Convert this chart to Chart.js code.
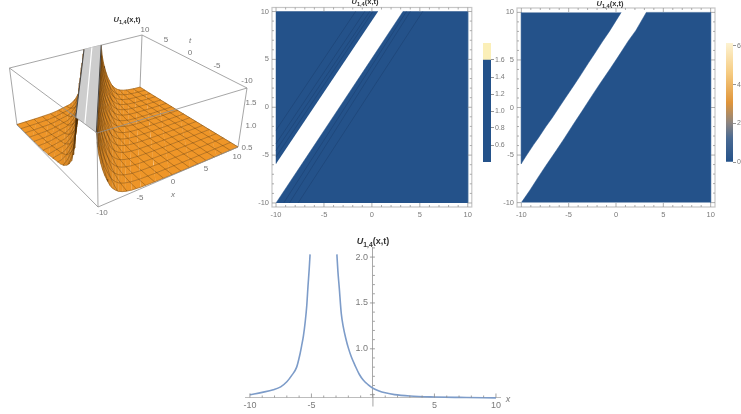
<!DOCTYPE html>
<html>
<head>
<meta charset="utf-8">
<title>U1,4(x,t)</title>
<script src="https://cdn.jsdelivr.net/npm/chart.js@4/dist/chart.umd.min.js"></script>
<style>
  html, body { margin: 0; background: #fff; overflow: hidden; }
  #stage { position: relative; width: 741px; height: 414px; overflow: hidden; filter: blur(0.4px); }
  #stage canvas { position: absolute; }
  .lbl { position: absolute; font: 8px "Liberation Sans", sans-serif; color: #777; transform: translate(-50%, -50%); white-space: nowrap; }
  .title { position: absolute; font: bold 7.5px "Liberation Sans", sans-serif; color: #333; transform: translate(-50%, -50%); white-space: nowrap; }
  .title sub { font-size: 0.75em; line-height: 0; }
</style>
</head>
<body>
<div id="stage">
  <canvas id="surface" style="left:0;top:0" width="250" height="225"></canvas>
  <canvas id="contour" style="left:250px;top:0" width="225" height="225"></canvas>
  <canvas id="contourBar" style="left:478px;top:35px" width="30" height="135"></canvas>
  <canvas id="density" style="left:495px;top:0" width="223" height="225"></canvas>
  <canvas id="densityBar" style="left:722px;top:35px" width="19" height="135"></canvas>
  <canvas id="section" style="left:230px;top:240px" width="290" height="174"></canvas>
</div>
<script>
  const FONT = '"Liberation Sans", sans-serif';
  const BLUE = "#24528a";
  const BLUE_LINE = "#1d4475";
  const TICK_GREY = "#8c8c8c";
  const TEXT_GREY = "#7a7a7a";

  // 2D section
  const lineLeftX = [-10, -9, -8.1, -7.5, -7, -6.6, -6.2, -5.95, -5.8, -5.65, -5.5, -5.38, -5.28, -5.18, -5.11];
  const lineLeftU = [0.5, 0.525, 0.553, 0.585, 0.64, 0.71, 0.8, 0.93, 1.03, 1.14, 1.3, 1.47, 1.68, 1.87, 2.03];
  const lineRightX = [-2.93, -2.85, -2.74, -2.57, -2.41, -2.2, -2, -1.75, -1.46, -1.1, -0.79, -0.4, 0, 0.5, 1, 1.76, 3, 5, 7, 10];
  const lineRightU = [2.03, 1.85, 1.67, 1.38, 1.24, 1.11, 1.01, 0.91, 0.82, 0.72, 0.66, 0.61, 0.57, 0.54, 0.52, 0.5, 0.485, 0.475, 0.47, 0.465];

  // surface height across the ridge, by distance d from the ridge axis
  const leftSectionD = [-12, -9, -7, -6, -5.1, -4, -3.5, -3, -2.6, -2.2, -1.95, -1.8, -1.65, -1.5, -1.35];
  const leftSectionU = [0.47, 0.475, 0.485, 0.5, 0.525, 0.553, 0.585, 0.64, 0.71, 0.8, 0.93, 1.03, 1.14, 1.3, 1.6];
  const rightSectionD = [1.3, 1.43, 1.59, 1.8, 2, 2.25, 2.54, 2.9, 3.21, 3.6, 4, 4.5, 5, 5.76, 7, 9, 11, 14, 18, 22];
  const rightSectionU = [1.6, 1.38, 1.24, 1.11, 1.01, 0.91, 0.82, 0.72, 0.66, 0.61, 0.57, 0.54, 0.52, 0.5, 0.485, 0.475, 0.47, 0.465, 0.462, 0.46];
  const meshStops = [-10, -8.75, -7.5, -6.25, -5, -3.75, -2.5, -1.25, 0, 1.25, 2.5, 3.75, 5, 6.25, 7.5, 8.75, 10];
  const ridgeX0 = -4.69;
  const ridgeSlope = 0.669;
  const ridgeStripeD = -0.15;

  // contour plot
  const contourUpperX = [-10, -10, 0.64];
  const contourUpperT = [-5.9, 10, 10];
  const contourLowerX = [-10, 3.24, 10, 10];
  const contourLowerT = [-10, 10, 10, -10];
  const contourLineX0 = [-10, -10, -10, -10, -9.2, -8.6, -7.7];
  const contourLineT0 = [-2.4, -3.8, -4.5, -5.2, -10, -10, -10];
  const contourLineX1 = [-1.7, -0.75, -0.23, 0.1, 3.6, 4, 5.3];
  const contourLineT1 = [10, 10, 10, 10, 10, 10, 10];
  const contourBarStops = [0.4, 1.6, 1.8];
  const contourBarTicks = [0.6, 0.8, 1.0, 1.2, 1.4, 1.6];

  // density plot, band edges are slightly ragged in the picture
  const densityUpperX = [-10, -10, -9.5, -8.7, -8.2, -7.4, -6.75, -5.95, -5.35, -4.4, -3.8, -2.9, -2.3, -1.45, -0.7, 0.55];
  const densityUpperT = [10, -5.9, -5.1, -3.9, -3.2, -2, -1.1, 0.1, 1, 2.4, 3.3, 4.7, 5.6, 6.9, 8, 10];
  const densityLowerX = [-10, -9.1, -8.2, -7.4, -6.3, -5.5, -4.4, -3.6, -2.5, -1.7, -0.6, 0.2, 1.3, 2.1, 3.2, 10, 10];
  const densityLowerT = [-10, -8.7, -7.3, -6.1, -4.5, -3.3, -1.6, -0.4, 1.3, 2.5, 4.1, 5.3, 7, 8.1, 10, 10, -10];
  const densityBarTicks = [0, 2, 4, 6];

  const frameTicks = [-10, -5, 0, 5, 10];
  const sectionXTicks = [-10, -5, 5, 10];
  const sectionUTicks = [1.0, 1.5, 2.0];

  const tLabels = ["10", "5", "0", "-5", "-10"];
  const xLabels = ["10", "5", "0", "-5", "-10"];
  const zLabels = ["1.5", "1.0", "0.5"];
  const tLabelPos = [[145, 29], [166, 39], [190, 52], [217, 65], [247, 80]];
  const xLabelPos = [[237, 156], [206, 168], [173, 181], [140, 197], [102, 212]];
  const zLabelPos = [[251, 102], [251, 125], [247, 147]];

  // box corners on the page: [x, y] for (x, t) = (-10,-10), (10,-10), (-10,10), (10,10)
  const boxBottom = [[98, 207], [238, 147], [17, 125], [140, 88]];
  const boxTop = [[97, 133], [247, 88], [9.5, 68], [142, 35]];
  const zMin = 0.46;
  const zMax = 1.6;
  const depthX = 1.13;
  const depthT = 1.25;

  const stage = document.getElementById("stage");

  function addText(cls, html, x, y, size) {
    const el = document.createElement("span");
    el.className = cls;
    el.innerHTML = html;
    el.style.left = x + "px";
    el.style.top = y + "px";
    if (size) {
      el.style.fontSize = size + "px";
    }
    stage.appendChild(el);
  }

  // far cells of the box look smaller than near ones
  function warp(f, w) {
    return (f * w) / (f * w + 1 - f);
  }

  function project(p) {
    const fx = warp((p.x + 10) / 20, depthX);
    const ft = warp((p.t + 10) / 20, depthT);
    const fz = (p.u - zMin) / (zMax - zMin);
    const at = (box, i) => (1 - ft) * ((1 - fx) * box[0][i] + fx * box[1][i]) + ft * ((1 - fx) * box[2][i] + fx * box[3][i]);
    return {
      x: (1 - fz) * at(boxBottom, 0) + fz * at(boxTop, 0),
      y: (1 - fz) * at(boxBottom, 1) + fz * at(boxTop, 1),
    };
  }

  function onSurface(d, t, u) {
    return { x: d + ridgeX0 + ridgeSlope * t, t: t, u: u };
  }

  function cut(a, b, key, limit) {
    const f = (limit - a[key]) / (b[key] - a[key]);
    return { x: a.x + (b.x - a.x) * f, t: a.t + (b.t - a.t) * f, u: a.u + (b.u - a.u) * f };
  }

  function clipPolygon(poly, key, limit, sign) {
    const out = [];
    poly.forEach((a, i) => {
      const b = poly[(i + 1) % poly.length];
      const aIn = sign * (a[key] - limit) >= 0;
      const bIn = sign * (b[key] - limit) >= 0;
      if (aIn) {
        out.push(a);
      }
      if (aIn !== bIn) {
        out.push(cut(a, b, key, limit));
      }
    });
    return out;
  }

  function clipLine(points, key) {
    const out = [];
    for (let i = 0; i < points.length; i++) {
      const p = points[i];
      if (i > 0) {
        const q = points[i - 1];
        [-10, 10].forEach((limit) => {
          if ((q[key] - limit) * (p[key] - limit) < 0) {
            out.push(cut(q, p, key, limit));
          }
        });
      }
      if (p[key] >= -10 && p[key] <= 10) {
        out.push(p);
      }
    }
    return out;
  }

  function mixOrange(f) {
    const dark = [110, 66, 16];
    const light = [239, 150, 40];
    const c = dark.map((v, i) => Math.round(v + (light[i] - v) * f));
    return "rgb(" + c.join(",") + ")";
  }

  function polyDataset(points, color) {
    return {
      data: points.map(project),
      showLine: true,
      fill: "shape",
      backgroundColor: color,
      borderColor: color,
      borderWidth: 0.6,
      pointRadius: 0,
      clip: false,
    };
  }

  function lineDataset(points, color, width) {
    return {
      data: points.map(project),
      showLine: true,
      fill: false,
      borderColor: color,
      borderWidth: width,
      pointRadius: 0,
      clip: false,
    };
  }

  function boxEdge(x0, t0, z0, x1, t1, z1) {
    return lineDataset([{ x: x0, t: t0, u: z0 }, { x: x1, t: t1, u: z1 }], "#8f8f8f", 0.8);
  }

  function surfaceDatasets() {
    const back = [
      boxEdge(-10, 10, zMax, 10, 10, zMax),
      boxEdge(10, 10, zMax, 10, -10, zMax),
      boxEdge(-10, 10, zMin, -10, 10, zMax),
      boxEdge(10, -10, zMin, 10, -10, zMax),
      boxEdge(10, 10, zMin, 10, 10, zMax),
      boxEdge(-10, 10, zMin, 10, 10, zMin),
      boxEdge(10, 10, zMin, 10, -10, zMin),
    ];

    const quads = [];
    [[leftSectionD, leftSectionU, 1.6], [rightSectionD, rightSectionU, 0.8]].forEach(([ds, us, dim]) => {
      for (let i = 0; i < meshStops.length - 1; i++) {
        for (let k = 0; k < ds.length - 1; k++) {
          let poly = [
            onSurface(ds[k], meshStops[i], us[k]),
            onSurface(ds[k + 1], meshStops[i], us[k + 1]),
            onSurface(ds[k + 1], meshStops[i + 1], us[k + 1]),
            onSurface(ds[k], meshStops[i + 1], us[k]),
          ];
          poly = clipPolygon(clipPolygon(poly, "x", -10, 1), "x", 10, -1);
          if (poly.length < 3) {
            continue;
          }
          const slope = Math.abs((us[k + 1] - us[k]) / (ds[k + 1] - ds[k]));
          const depth = poly.reduce((sum, p) => sum + p.x + p.t, 0) / poly.length;
          quads.push({ depth: depth, poly: poly, color: mixOrange(1 / (1 + dim * slope)) });
        }
      }
    });
    quads.sort((a, b) => b.depth - a.depth);

    const mesh = [];
    const meshColor = "rgba(70,42,10,0.65)";
    [[leftSectionD, leftSectionU], [rightSectionD, rightSectionU]].forEach(([ds, us]) => {
      meshStops.forEach((stop) => {
        const alongX = clipLine(ds.map((d, k) => onSurface(d, stop, us[k])), "x");
        if (alongX.length > 1) {
          mesh.push(lineDataset(alongX, meshColor, 0.5));
        }
        const alongT = clipLine(ds.map((d, k) => ({ x: stop, t: (stop - ridgeX0 - d) / ridgeSlope, u: us[k] })), "t");
        if (alongT.length > 1) {
          mesh.push(lineDataset(alongT, meshColor, 0.5));
        }
      });
    });

    // clipped top of the ridge
    const dLeft = leftSectionD[leftSectionD.length - 1];
    const dRight = rightSectionD[0];
    let band = [onSurface(dLeft, -10, zMax), onSurface(dRight, -10, zMax), onSurface(dRight, 10, zMax), onSurface(dLeft, 10, zMax)];
    band = clipPolygon(band, "x", -10, 1);
    const bandLine = (d, color, width) => lineDataset(clipLine([onSurface(d, -10, zMax), onSurface(d, 10, zMax)], "x"), color, width);
    const top = [
      polyDataset(band, "#cdcdcd"),
      bandLine(ridgeStripeD, "#ffffff", 1.2),
      bandLine(dLeft, "#3a3a3a", 0.9),
      bandLine(dRight, "#3a3a3a", 0.9),
    ];

    const front = [
      boxEdge(-10, 10, zMax, -10, -10, zMax),
      boxEdge(-10, -10, zMax, 10, -10, zMax),
      boxEdge(-10, -10, zMin, -10, -10, zMax),
      boxEdge(-10, 10, zMin, -10, -10, zMin),
      boxEdge(-10, -10, zMin, 10, -10, zMin),
    ];

    // chart.js paints the first dataset last, so reverse the back-to-front list
    return back
      .concat(quads.map((q) => polyDataset(q.poly, q.color)), mesh, top, front)
      .reverse();
  }

  new Chart(document.getElementById("surface"), {
    type: "scatter",
    data: { datasets: surfaceDatasets() },
    options: {
      responsive: false,
      animation: false,
      layout: { padding: 0 },
      plugins: { legend: { display: false }, tooltip: { enabled: false } },
      scales: {
        x: { display: false, min: 0, max: 250 },
        y: { display: false, min: 0, max: 225, reverse: true },
      },
    },
  });

  // frame with ticks pointing inward, Mathematica style
  const framePlugin = {
    id: "frameTicks",
    afterDraw(chart) {
      const { ctx, chartArea: a, scales } = chart;
      ctx.save();
      ctx.strokeStyle = "#c6c6c6";
      ctx.lineWidth = 1.2;
      ctx.strokeRect(a.left, a.top, a.right - a.left, a.bottom - a.top);
      ctx.strokeStyle = TICK_GREY;
      ctx.lineWidth = 0.7;
      for (let v = -10; v <= 10; v++) {
        const len = v % 5 === 0 ? 4 : 2;
        const px = scales.x.getPixelForValue(v);
        const py = scales.y.getPixelForValue(v);
        ctx.beginPath();
        ctx.moveTo(px, a.bottom);
        ctx.lineTo(px, a.bottom - len);
        ctx.moveTo(px, a.top);
        ctx.lineTo(px, a.top + len);
        ctx.moveTo(a.left, py);
        ctx.lineTo(a.left + len, py);
        ctx.moveTo(a.right, py);
        ctx.lineTo(a.right - len, py);
        ctx.stroke();
      }
      ctx.restore();
    },
  };

  function zip(xs, ys) {
    return xs.map((x, i) => ({ x: x, y: ys[i] }));
  }

  function blueArea(xs, ys) {
    return {
      data: zip(xs, ys),
      showLine: true,
      fill: "shape",
      backgroundColor: BLUE,
      borderColor: BLUE,
      borderWidth: 0.5,
      pointRadius: 0,
    };
  }

  function frameOptions(range, top) {
    const axis = (extra) => Object.assign({
      type: "linear",
      min: -range,
      max: range,
      grid: { display: false, drawTicks: false },
      border: { display: false },
      ticks: { color: TEXT_GREY, font: { family: FONT, size: 7.5 }, padding: 3, maxRotation: 0, autoSkip: false },
      afterBuildTicks: (scale) => {
        scale.ticks = frameTicks.map((value) => ({ value: value }));
      },
    }, extra);
    return {
      responsive: false,
      animation: false,
      layout: { padding: { top: top, right: 3, left: 0, bottom: 0 } },
      plugins: { legend: { display: false }, tooltip: { enabled: false } },
      scales: {
        x: axis({ afterFit: (scale) => { scale.height = 18; } }),
        y: axis({ afterFit: (scale) => { scale.width = 22; } }),
      },
    };
  }

  const contourDatasets = contourLineX0.map((x0, i) => ({
    data: [{ x: x0, y: contourLineT0[i] }, { x: contourLineX1[i], y: contourLineT1[i] }],
    showLine: true,
    borderColor: BLUE_LINE,
    borderWidth: 0.7,
    pointRadius: 0,
  })).concat([blueArea(contourUpperX, contourUpperT), blueArea(contourLowerX, contourLowerT)]);

  new Chart(document.getElementById("contour"), {
    type: "scatter",
    data: { datasets: contourDatasets },
    options: frameOptions(10.42, 6),
    plugins: [framePlugin],
  });

  new Chart(document.getElementById("density"), {
    type: "scatter",
    data: { datasets: [blueArea(densityUpperX, densityUpperT), blueArea(densityLowerX, densityLowerT)] },
    options: frameOptions(10.46, 8),
    plugins: [framePlugin],
  });

  function barOptions(min, max, ticks, fmt, leftPad, width) {
    return {
      responsive: false,
      animation: false,
      layout: { padding: { top: 8, bottom: 8, left: leftPad, right: 0 } },
      plugins: { legend: { display: false }, tooltip: { enabled: false } },
      scales: {
        x: { display: false, stacked: false },
        y: {
          position: "right",
          min: min,
          max: max,
          grid: { drawOnChartArea: false, tickLength: 3, tickColor: "#666", tickWidth: 0.7 },
          border: { display: false },
          ticks: { color: TEXT_GREY, font: { family: FONT, size: 7 }, padding: 1, callback: fmt },
          afterBuildTicks: (scale) => {
            scale.ticks = ticks.map((value) => ({ value: value }));
          },
          afterFit: (scale) => { scale.width = width; },
        },
      },
    };
  }

  new Chart(document.getElementById("contourBar"), {
    type: "bar",
    data: {
      labels: ["u"],
      datasets: [
        { data: [[contourBarStops[0], contourBarStops[1]]], backgroundColor: BLUE, categoryPercentage: 1, barPercentage: 1, grouped: false },
        { data: [[contourBarStops[1], contourBarStops[2]]], backgroundColor: "#fbefb8", categoryPercentage: 1, barPercentage: 1, grouped: false },
      ],
    },
    options: barOptions(contourBarStops[0], contourBarStops[2], contourBarTicks, (v) => v.toFixed(1), 5, 17),
  });

  const densityBarStops = [[0, BLUE], [0.2, "#4a6a92"], [0.33, "#8d8580"], [0.5, "#e0953a"], [0.75, "#f6cc82"], [1, "#fdf3d2"]];

  new Chart(document.getElementById("densityBar"), {
    type: "bar",
    data: {
      labels: ["u"],
      datasets: [{
        data: [[0, 6.15]],
        categoryPercentage: 1,
        barPercentage: 1,
        backgroundColor: (context) => {
          const area = context.chart.chartArea;
          if (!area) {
            return BLUE;
          }
          const g = context.chart.ctx.createLinearGradient(0, area.bottom, 0, area.top);
          densityBarStops.forEach(([at, color]) => g.addColorStop(at, color));
          return g;
        },
      }],
    },
    options: barOptions(0, 6.15, densityBarTicks, (v) => String(v), 4, 8),
  });

  // axis ticks and value labels of the bottom plot
  const axisPlugin = {
    id: "axisTicks",
    afterDraw(chart) {
      const { ctx, chartArea: a, scales } = chart;
      const y0 = a.bottom;
      const x0 = scales.x.getPixelForValue(0);
      ctx.save();
      ctx.strokeStyle = TICK_GREY;
      ctx.lineWidth = 0.8;
      ctx.beginPath();
      ctx.moveTo(x0, y0);
      ctx.lineTo(x0, y0 + 9);
      ctx.stroke();
      for (let v = -10; v <= 10; v++) {
        const px = scales.x.getPixelForValue(v);
        ctx.beginPath();
        ctx.moveTo(px, y0);
        ctx.lineTo(px, y0 - (v % 5 === 0 ? 4 : 2));
        ctx.stroke();
      }
      for (let n = 5; n <= 21; n++) {
        const py = scales.y.getPixelForValue(n / 10);
        const major = n % 5 === 0;
        ctx.beginPath();
        ctx.moveTo(x0 - (major ? 3 : 0), py);
        ctx.lineTo(x0 + 2, py);
        ctx.stroke();
      }
      ctx.fillStyle = TEXT_GREY;
      ctx.font = "9px " + FONT;
      ctx.textAlign = "right";
      ctx.textBaseline = "middle";
      sectionUTicks.forEach((v) => {
        ctx.fillText(v.toFixed(1), x0 - 5, scales.y.getPixelForValue(v));
      });
      ctx.restore();
    },
  };

  function curveDataset(xs, us) {
    return {
      data: zip(xs, us),
      showLine: true,
      borderColor: "#7d9cc9",
      borderWidth: 1.6,
      pointRadius: 0,
      cubicInterpolationMode: "monotone",
      clip: false,
    };
  }

  new Chart(document.getElementById("section"), {
    type: "scatter",
    data: { datasets: [curveDataset(lineLeftX, lineLeftU), curveDataset(lineRightX, lineRightU)] },
    options: {
      responsive: false,
      animation: false,
      layout: { padding: { top: 7, left: 15, right: 20, bottom: 0 } },
      plugins: { legend: { display: false }, tooltip: { enabled: false } },
      scales: {
        x: {
          type: "linear",
          min: -10.4,
          max: 10.33,
          grid: { display: false, drawTicks: false },
          border: { color: "#bdbdbd", width: 1 },
          ticks: { color: TEXT_GREY, font: { family: FONT, size: 9 }, padding: 3, maxRotation: 0, autoSkip: false },
          afterBuildTicks: (scale) => {
            scale.ticks = sectionXTicks.map((value) => ({ value: value }));
          },
          afterFit: (scale) => { scale.height = 16.5; },
        },
        y: {
          type: "linear",
          position: { x: 0 },
          min: 0.469,
          max: 2.11,
          grid: { display: false, drawTicks: false },
          border: { color: "#a8a8a8", width: 1 },
          ticks: { display: false },
          afterBuildTicks: (scale) => {
            scale.ticks = sectionUTicks.map((value) => ({ value: value }));
          },
        },
      },
    },
    plugins: [axisPlugin],
  });

  const titleHtml = "<i>U</i><sub>1,4</sub>(x,t)";
  addText("title", titleHtml, 127, 19);
  addText("title", titleHtml, 365, 1);
  addText("title", titleHtml, 610, 3);
  addText("title", titleHtml, 373, 241, 9);

  tLabels.forEach((s, i) => addText("lbl", s, tLabelPos[i][0], tLabelPos[i][1]));
  xLabels.forEach((s, i) => addText("lbl", s, xLabelPos[i][0], xLabelPos[i][1]));
  zLabels.forEach((s, i) => addText("lbl", s, zLabelPos[i][0], zLabelPos[i][1]));
  addText("lbl", "<i>t</i>", 190, 40);
  addText("lbl", "<i>x</i>", 173, 194);
  addText("lbl", "<i>x</i>", 508, 399, 9);
</script>
</body>
</html>
